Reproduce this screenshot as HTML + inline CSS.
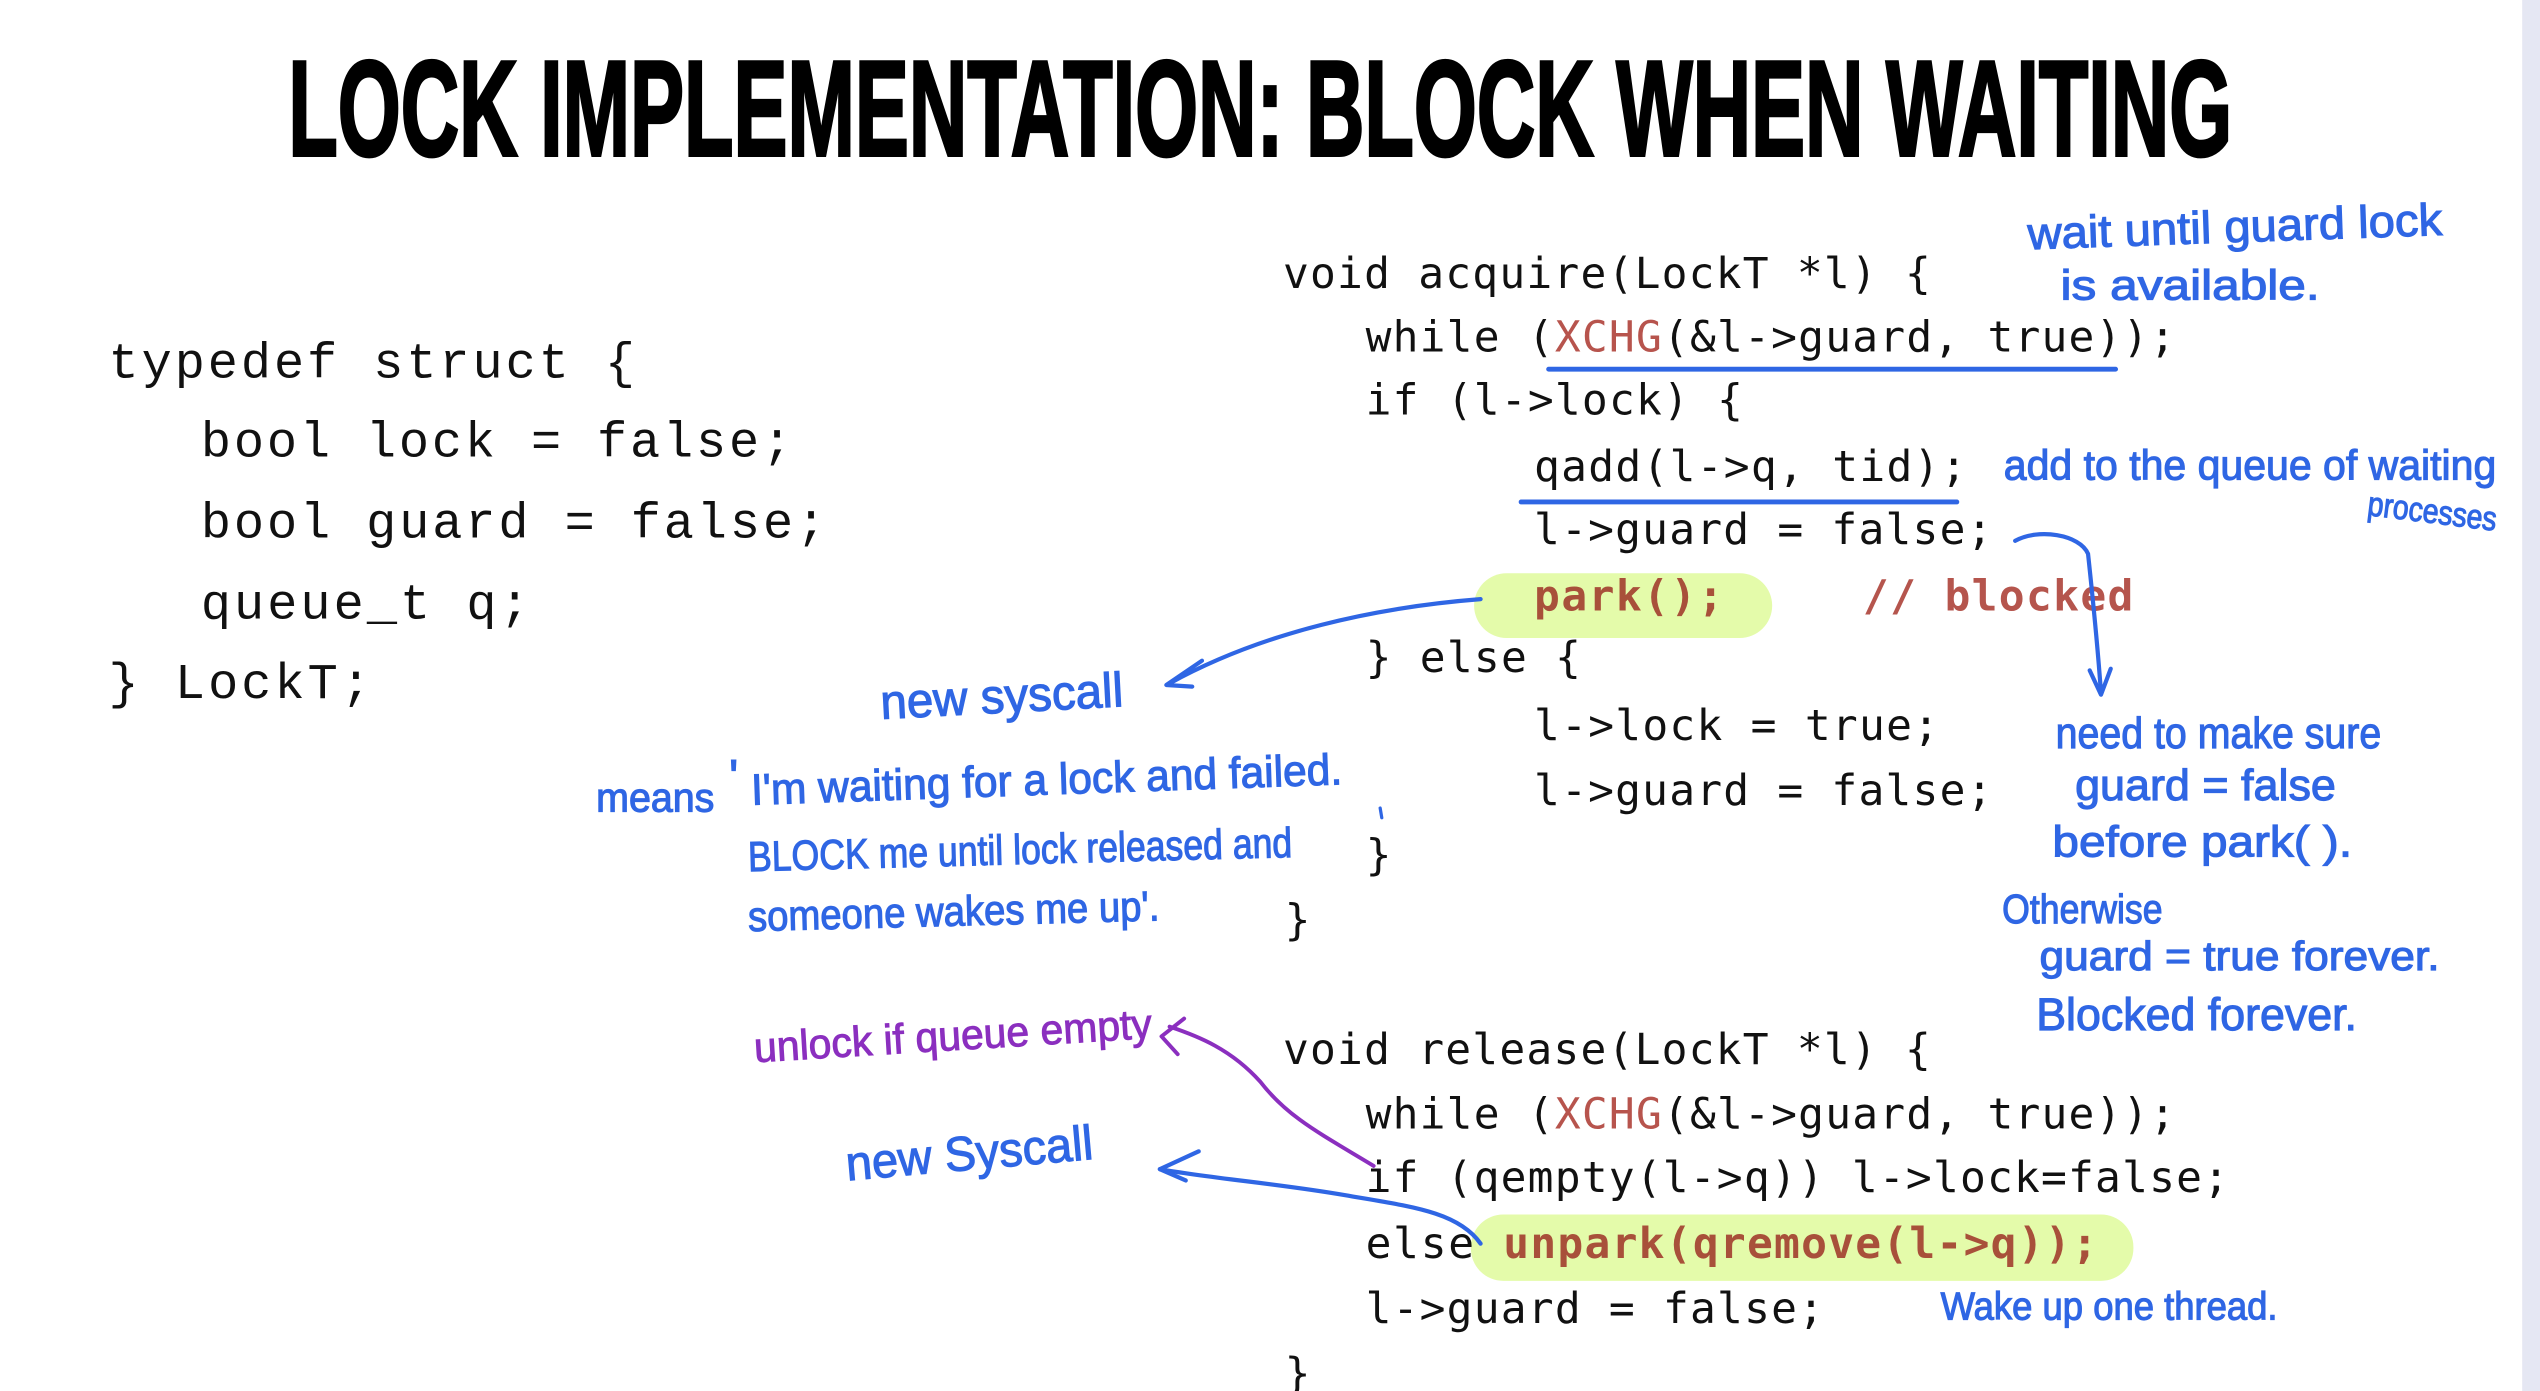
<!DOCTYPE html>
<html>
<head>
<meta charset="utf-8">
<style>
  html,body{margin:0;padding:0;background:#fff;}
  body{width:2540px;height:1391px;overflow:hidden;}
  svg{display:block;}
  .code{font-family:"DejaVu Sans Mono","Liberation Mono",monospace;font-size:26.5px;fill:#111;}
  .cb{font-family:"DejaVu Sans Mono","Liberation Mono",monospace;font-size:26.5px;font-weight:bold;fill:#a8503a;}
  .st{font-family:"Liberation Mono",monospace;font-size:31px;fill:#111;}
  .hw{font-family:"Liberation Sans Narrow","Liberation Sans",sans-serif;fill:#2f66e4;stroke:#2f66e4;stroke-width:0.7;}
  .hp{font-family:"Liberation Sans Narrow","Liberation Sans",sans-serif;fill:#8b2fbf;stroke:#8b2fbf;stroke-width:0.6;}
</style>
</head>
<body>
<svg width="2540" height="1391" viewBox="0 0 1568 859" preserveAspectRatio="none" xmlns="http://www.w3.org/2000/svg">
  <rect x="0" y="0" width="1568" height="859" fill="#ffffff"/>
  <rect x="1557" y="0" width="11" height="859" fill="#e5e7f3"/>

  <!-- Title -->
  <text x="178" y="96" font-family="Liberation Sans, sans-serif" font-weight="bold" font-size="84" fill="#000" stroke="#000" stroke-width="2" textLength="1200" lengthAdjust="spacingAndGlyphs">LOCK IMPLEMENTATION: BLOCK WHEN WAITING</text>

  <!-- Left struct -->
  <text class="st" x="67" y="233" textLength="325" lengthAdjust="spacing">typedef struct {</text>
  <text class="st" x="124" y="282" textLength="365" lengthAdjust="spacing">bool lock = false;</text>
  <text class="st" x="124" y="332" textLength="386" lengthAdjust="spacing">bool guard = false;</text>
  <text class="st" x="124" y="382" textLength="203" lengthAdjust="spacing">queue_t q;</text>
  <text class="st" x="67" y="431" textLength="162" lengthAdjust="spacing">} LockT;</text>

  <!-- Highlights -->
  <rect x="910" y="354" width="184" height="40" rx="20" ry="20" fill="#e4fbaa"/>
  <rect x="908" y="750" width="409" height="41" rx="20" ry="20" fill="#e4fbaa"/>

  <!-- Acquire -->
  <text class="code" x="792" y="178" textLength="400" lengthAdjust="spacing">void acquire(LockT *l) {</text>
  <text class="code" x="843" y="217" textLength="500" lengthAdjust="spacing">while (<tspan fill="#b7544d">XCHG</tspan>(&amp;l-&gt;guard, true));</text>
  <text class="code" x="843" y="256" textLength="233" lengthAdjust="spacing">if (l-&gt;lock) {</text>
  <text class="code" x="947" y="297" textLength="267" lengthAdjust="spacing">qadd(l-&gt;q, tid);</text>
  <text class="code" x="947" y="336" textLength="283" lengthAdjust="spacing">l-&gt;guard = false;</text>
  <text class="cb" x="947" y="377" textLength="117" lengthAdjust="spacing">park();</text>
  <text class="cb" x="1150" y="377" textLength="167" lengthAdjust="spacing" style="fill:#b5554d">// blocked</text>
  <text class="code" x="843" y="415" textLength="133" lengthAdjust="spacing">} else {</text>
  <text class="code" x="947" y="457" textLength="250" lengthAdjust="spacing">l-&gt;lock = true;</text>
  <text class="code" x="947" y="497" textLength="283" lengthAdjust="spacing">l-&gt;guard = false;</text>
  <text class="code" x="843" y="537">}</text>
  <text class="code" x="793" y="577">}</text>

  <!-- Release -->
  <text class="code" x="792" y="657" textLength="400" lengthAdjust="spacing">void release(LockT *l) {</text>
  <text class="code" x="843" y="697" textLength="500" lengthAdjust="spacing">while (<tspan fill="#b7544d">XCHG</tspan>(&amp;l-&gt;guard, true));</text>
  <text class="code" x="843" y="736" textLength="533" lengthAdjust="spacing">if (qempty(l-&gt;q)) l-&gt;lock=false;</text>
  <text class="code" x="843" y="777" textLength="67" lengthAdjust="spacing">else</text>
  <text class="cb" x="928" y="777" textLength="367" lengthAdjust="spacing">unpark(qremove(l-&gt;q));</text>
  <text class="code" x="843" y="817" textLength="283" lengthAdjust="spacing">l-&gt;guard = false;</text>
  <text class="code" x="793" y="857">}</text>

  <!-- Underlines -->
  <line x1="956" y1="228" x2="1306" y2="228" stroke="#2f66e4" stroke-width="3" stroke-linecap="round"/>
  <line x1="939" y1="310" x2="1208" y2="310" stroke="#2f66e4" stroke-width="3" stroke-linecap="round"/>

  <!-- Connectors -->
  <g fill="none" stroke="#2f66e4" stroke-width="2.6" stroke-linecap="round" stroke-linejoin="round">
    <path d="M1244,334 C1258,326 1284,330 1289,342 C1292,370 1295,400 1297,428"/>
    <path d="M1290,414 L1297,429 L1303,413"/>
    <path d="M914,370 C850,375 780,390 722,422"/>
    <path d="M742,408 L720,423 L736,424"/>
    <path d="M914,768 C900,748 870,745 830,738 C790,731 750,728 716,722"/>
    <path d="M740,711 L716,722 L732,729"/>
  </g>
  <g fill="none" stroke="#8b2fbf" stroke-width="2.4" stroke-linecap="round" stroke-linejoin="round">
    <path d="M848,720 C815,700 795,690 778,668 C760,648 740,640 722,634"/>
    <path d="M731,629 L717,640 L727,651"/>
  </g>
  <line x1="852" y1="499" x2="853" y2="505" stroke="#2f66e4" stroke-width="2" stroke-linecap="round"/>

  <!-- Handwritten annotations -->
  <text class="hw" x="1252" y="154" font-size="28" textLength="256" lengthAdjust="spacingAndGlyphs" transform="rotate(-2 1252 154)">wait until guard lock</text>
  <text class="hw" x="1272" y="185" font-size="26" textLength="160" lengthAdjust="spacingAndGlyphs">is available.</text>
  <text class="hw" x="1237" y="296" font-size="26" textLength="304" lengthAdjust="spacingAndGlyphs">add to the queue of waiting</text>
  <text class="hw" x="1461" y="318" font-size="21" textLength="80" lengthAdjust="spacingAndGlyphs" transform="rotate(7 1461 318)">processes</text>

  <text class="hw" x="1269" y="462" font-size="27" textLength="201" lengthAdjust="spacingAndGlyphs">need to make sure</text>
  <text class="hw" x="1281" y="494" font-size="27" textLength="161" lengthAdjust="spacingAndGlyphs">guard = false</text>
  <text class="hw" x="1267" y="529" font-size="27" textLength="185" lengthAdjust="spacingAndGlyphs">before park( ).</text>
  <text class="hw" x="1236" y="570" font-size="25" textLength="99" lengthAdjust="spacingAndGlyphs">Otherwise</text>
  <text class="hw" x="1259" y="599" font-size="25" textLength="247" lengthAdjust="spacingAndGlyphs">guard = true forever.</text>
  <text class="hw" x="1257" y="636" font-size="28" textLength="198" lengthAdjust="spacingAndGlyphs">Blocked forever.</text>

  <text class="hw" x="544" y="444" font-size="30" textLength="150" lengthAdjust="spacingAndGlyphs" transform="rotate(-3 544 444)">new syscall</text>
  <text class="hw" x="368" y="501" font-size="25" textLength="73" lengthAdjust="spacingAndGlyphs">means</text>
  <text class="hw" x="450" y="490" font-size="30">'</text>
  <text class="hw" x="464" y="497" font-size="27" textLength="365" lengthAdjust="spacingAndGlyphs" transform="rotate(-2 464 497)">I'm waiting for a lock and failed.</text>
  <text class="hw" x="462" y="538" font-size="26" textLength="336" lengthAdjust="spacingAndGlyphs" transform="rotate(-1.5 462 538)">BLOCK me until lock released and</text>
  <text class="hw" x="462" y="575" font-size="26" textLength="254" lengthAdjust="spacingAndGlyphs" transform="rotate(-1.5 462 575)">someone wakes me up'.</text>

  <text class="hp" x="466" y="656" font-size="26" textLength="246" lengthAdjust="spacingAndGlyphs" transform="rotate(-3.5 466 656)">unlock if queue empty</text>
  <text class="hw" x="523" y="729" font-size="30" textLength="153" lengthAdjust="spacingAndGlyphs" transform="rotate(-5 523 729)">new Syscall</text>
  <text class="hw" x="1198" y="815" font-size="24" textLength="208" lengthAdjust="spacingAndGlyphs">Wake up one thread.</text>
</svg>
</body>
</html>
